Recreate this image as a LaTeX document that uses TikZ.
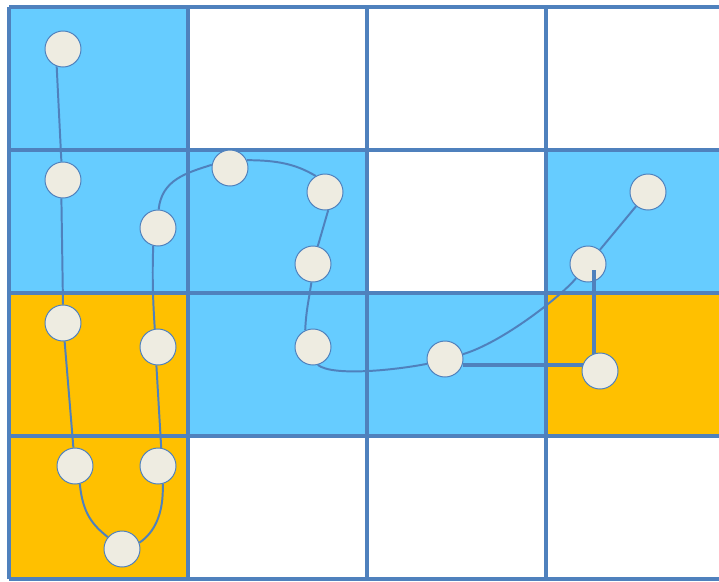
\documentclass[tikz,border=0pt]{standalone}
\usepackage{xcolor}
\definecolor{gridblue}{RGB}{79,129,189}
\definecolor{cellblue}{RGB}{102,204,255}
\definecolor{cellorange}{RGB}{255,192,0}
\definecolor{dotfill}{RGB}{238,236,225}
\usetikzlibrary{positioning,calc}
\pgfdeclarelayer{cells}
\pgfdeclarelayer{links}
\pgfsetlayers{cells,links,main}

\begin{document}
\begin{tikzpicture}[x=0.025cm,y=-0.025cm,
  dot/.style={draw=gridblue,circle,fill=dotfill,line width=0.7pt,minimum size=0.9cm,inner sep=0pt},
  gridline/.style={gridblue,line width=2.8pt},
  track/.style={gridblue,line width=1.4pt},
  bar/.style={gridblue,line width=2.2pt}]
  \useasboundingbox (0,0) rectangle (719,581);
  \clip (0,0) rectangle (719,581);
  \begin{pgfonlayer}{cells}
    \foreach \c/\r in {0/0,0/1,1/1,3/1,1/2,2/2} {\fill[cellblue] (9+179*\c,7+143*\r) rectangle +(179,143);}
    \foreach \c/\r in {0/2,3/2,0/3} {\fill[cellorange] (9+179*\c,7+143*\r) rectangle +(179,143);}
    \foreach \c in {0,...,4} {\draw[gridline] (9+179*\c,7) -- (9+179*\c,579);}
    \foreach \r in {0,...,4} {\draw[gridline] (9,7+143*\r) -- (725,7+143*\r);}
  \end{pgfonlayer}
  \node[dot] (n1) at (63,49) {};
  \node[dot] (n2) at (63,180) {};
  \node[dot] (n3) at (63,323) {};
  \node[dot] (n4) at (75,466) {};
  \node[dot] (n5) at (122,549) {};
  \node[dot] (n6) at (158,466) {};
  \node[dot] (n7) at (158,347) {};
  \node[dot] (n8) at (158,228) {};
  \node[dot] (n9) at (230,168) {};
  \node[dot] (n10) at (325,192) {};
  \node[dot] (n11) at (313,264) {};
  \node[dot] (n12) at (313,347) {};
  \node[dot] (n13) at (445,359) {};
  \node[dot] (n14) at (588,264) {};
  \node[dot] (n15) at (648,192) {};
  \begin{pgfonlayer}{links}
    \draw[track] (n1.-110) -- (n2.95);
    \draw[track] (n2.-95) -- (n3.90);
    \draw[track] (n3.-85) -- (n4.95);
    \draw[track] (n4.-75) .. controls +(3,30) and +(-15,-12) .. (n5.140);
    \draw[track] (n5.20) .. controls +(15,-10) and +(1,30) .. (n6.-75);
    \draw[track] (n6.80) -- (n7.-95);
    \draw[track] (n7.100) .. controls +(-2,-30) and +(-1,30) .. (n8.-105);
    \draw[track] (n8.88) .. controls +(3,-30) and +(-25,8) .. (n9.170);
    \draw[track] (n9.25) .. controls +(30,0) and +(-20,-12) .. (n10.120);
    \draw[track] (n10.-80) -- (n11.75);
    \draw[track] (n11.-95) .. controls +(-3,20) and +(1,-20) .. (n12.115);
    \draw[track] (n12.-75) .. controls +(15,12) and +(-30,6) .. (n13.195);
    \draw[track] (n13.15) .. controls +(40,-12) and +(-15,18) .. (n14.-130);
    \draw[track] (n14.50) -- (n15.-130);
  \end{pgfonlayer}
  \coordinate (k1) at (594,270);
  \coordinate (k2) at (594,365);
  \draw[bar] (k1) -- (k2) -- (k2 -| n13.east);
  \node[dot] (n16) at (600,371) {};
\end{tikzpicture}
\end{document}
